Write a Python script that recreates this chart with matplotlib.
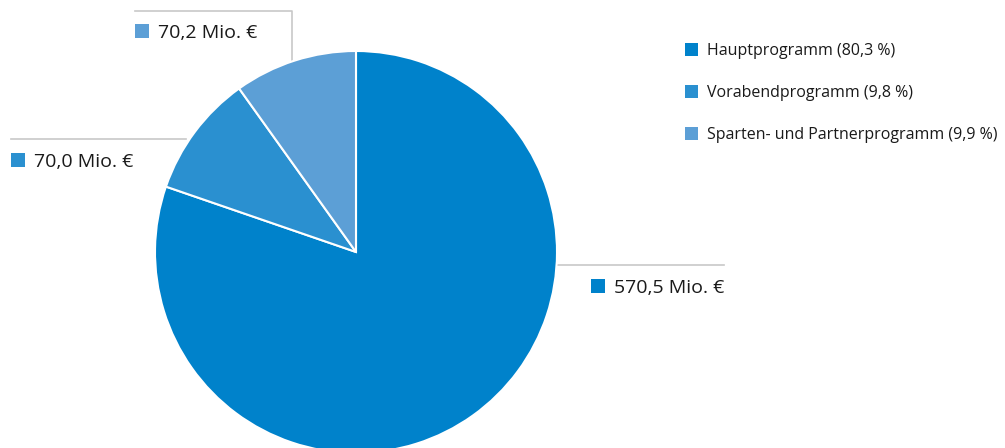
import matplotlib
matplotlib.use("Agg")
import matplotlib.pyplot as plt
from matplotlib.patches import Rectangle

plt.rcParams["font.family"] = ["Open Sans", "DejaVu Sans"]

# data
categories = ["Hauptprogramm", "Vorabendprogramm", "Sparten- und Partnerprogramm"]
values = [570.5, 70.0, 70.2]
shares = ["80,3 %", "9,8 %", "9,9 %"]
value_labels = ["570,5 Mio. €", "70,0 Mio. €", "70,2 Mio. €"]
colors = ["#0082CB", "#2A90D0", "#5C9FD6"]

W, H = 1005, 448
fig = plt.figure(figsize=(W / 100, H / 100), dpi=100)
ax = fig.add_axes([0, 0, 1, 1])


def py(y):
    # pixel row (from top) -> data y
    return H - y


cx, cy, r = 356, py(252), 201
ax.pie(values, colors=colors, startangle=90, counterclock=False,
       center=(cx, cy), radius=r, frame=True,
       wedgeprops=dict(edgecolor="white", linewidth=1.5))
ax.set_xlim(0, W)
ax.set_ylim(0, H)
ax.set_aspect("equal")
ax.axis("off")

line_kw = dict(color="#c8c8c8", lw=1.2, zorder=0)
# leader lines
ax.plot([557, 724], [py(265), py(265)], **line_kw)
ax.plot([11, 186], [py(139), py(139)], **line_kw)
ax.plot([135, 292, 292], [py(11), py(11), py(60)], **line_kw)

# value labels: (square x, row center y)
label_pos = [(591, 286), (11, 160), (135, 31)]
for (x, y), lab, col in zip(label_pos, value_labels, colors):
    ax.add_patch(Rectangle((x, py(y) - 7), 14, 14, color=col, lw=0))
    ax.text(x + 23, py(y) - 2, lab, fontsize=14, color="#1a1a1a",
            va="center", ha="left")

# legend
leg_y = [49, 91, 133]
for y, cat, sh, col in zip(leg_y, categories, shares, colors):
    ax.add_patch(Rectangle((685, py(y) - 6.5), 13, 13, color=col, lw=0))
    ax.text(707, py(y) - 1.5, f"{cat} ({sh})", fontsize=11.5, color="#1a1a1a",
            va="center", ha="left")

fig.savefig("out.png", dpi=100)
